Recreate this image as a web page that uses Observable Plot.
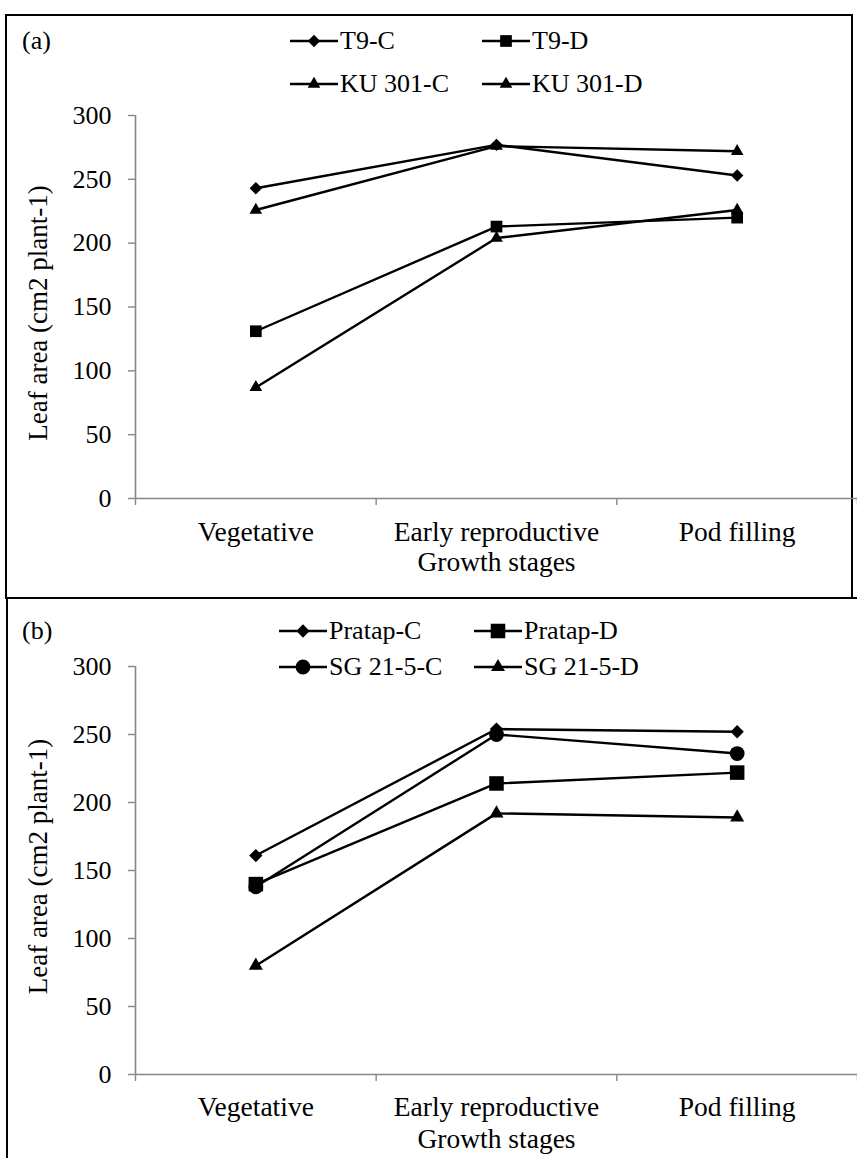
<!DOCTYPE html>
<html><head><meta charset="utf-8">
<script src="https://cdn.jsdelivr.net/npm/d3@7"></script>
<script src="https://cdn.jsdelivr.net/npm/@observablehq/plot@0.6"></script>
<style>
body{margin:0;background:#fff;}
#page{position:relative;width:857px;height:1158px;overflow:hidden;font-family:"Liberation Serif","Times New Roman",serif;color:#000;background:#fff;}
.box{position:absolute;box-sizing:border-box;}
.chart{position:absolute;left:0;}
.chart svg{overflow:visible;max-width:none;background:transparent;}
.tag{position:absolute;font-size:26px;line-height:1;transform:translateY(-50%);}
.leg{position:absolute;display:flex;align-items:center;font-size:26px;line-height:1;white-space:nowrap;transform:translateY(-50%);}
.leg svg{display:block;margin-right:2px;}
</style></head><body>
<div id="page"></div>
<script>
// ---- data ----
const stages = ["Vegetative", "Early reproductive", "Pod filling"];
const yTicks = [0, 50, 100, 150, 200, 250, 300];
const xTitle = "Growth stages";
const yTitle = "Leaf area (cm2 plant-1)";

const seriesA = ["T9-C", "T9-D", "KU 301-C", "KU 301-D"];
const t9C = [243, 277, 253];
const t9D = [131, 213, 220];
const ku301C = [226, 276, 272];
const ku301D = [87, 204, 226];

const seriesB = ["Pratap-C", "Pratap-D", "SG 21-5-C", "SG 21-5-D"];
const pratapC = [161, 254, 252];
const pratapD = [140, 214, 222];
const sg215C = [138, 250, 236];
const sg215D = [80, 192, 189];

// ---- styles ----
const axisGray = "#878787";
const TICKFONT = 26;
const LABELFONT = 27.5;
const symbolMap = {diamond2: d3.symbolDiamond2, square: d3.symbolSquare, triangle: d3.symbolTriangle, circle: d3.symbolCircle};

const page = document.getElementById("page");

function addBox(style) {
  const b = document.createElement("div");
  b.className = "box";
  Object.assign(b.style, style);
  page.appendChild(b);
}

function addTag(text, left, top) {
  const t = document.createElement("div");
  t.className = "tag";
  t.textContent = text;
  t.style.left = left + "px";
  t.style.top = top + "px";
  page.appendChild(t);
}

function addLegend(series, symbols, radii, positions) {
  series.forEach((s, i) => {
    const [x, y] = positions[i];
    const div = document.createElement("div");
    div.className = "leg";
    div.style.left = x + "px";
    div.style.top = y + "px";
    const w = 48, h = 22;
    const svg = d3.create("svg").attr("width", w).attr("height", h);
    svg.append("line").attr("x1", 0).attr("x2", w).attr("y1", h / 2).attr("y2", h / 2)
      .attr("stroke", "black").attr("stroke-width", 2.4);
    svg.append("path")
      .attr("d", d3.symbol(symbolMap[symbols[i]], Math.PI * radii[i] * radii[i])())
      .attr("transform", `translate(${w / 2},${h / 2})`)
      .attr("fill", "black");
    div.appendChild(svg.node());
    const span = document.createElement("span");
    span.textContent = s;
    div.appendChild(span);
    page.appendChild(div);
  });
}

function panel({series, values, symbols, radii, top, height, marginTop, marginBottom, labelDy, titleDy, ylabelDy}) {
  const data = series.flatMap((s, si) => values[si].map((v, i) => ({series: s, stage: i, value: v})));
  const marks = [
    Plot.ruleY([0], {stroke: axisGray, strokeWidth: 1.6}),
    Plot.ruleX([0], {stroke: axisGray, strokeWidth: 1.6}),
    Plot.axisY({ticks: yTicks, tickSize: 7, tickPadding: 17, fontSize: TICKFONT, stroke: axisGray, fill: "black", strokeWidth: 1.4, label: null}),
    Plot.axisX({ticks: d3.range(stages.length + 1), tickSize: 7, tickFormat: () => "", stroke: axisGray, strokeWidth: 1.4, label: null}),
    Plot.text(stages, {x: (d, i) => i + 0.5, text: d => d, frameAnchor: "bottom", dy: labelDy, fontSize: LABELFONT}),
    Plot.text([xTitle], {text: d => d, frameAnchor: "bottom", dy: titleDy, fontSize: LABELFONT}),
    Plot.text([yTitle], {text: d => d, frameAnchor: "left", textAnchor: "middle", rotate: -90, dx: -97, dy: ylabelDy, fontSize: 27}),
    Plot.line(data, {x: d => d.stage + 0.5, y: "value", z: "series", stroke: "black", strokeWidth: 2.4}),
    ...series.map((s, si) => Plot.dot(data.filter(d => d.series === s), {
      x: d => d.stage + 0.5, y: "value", symbol: symbols[si], r: radii[si], fill: "black", stroke: "none"
    }))
  ];
  const svg = Plot.plot({
    width: 857, height, marginTop, marginBottom, marginLeft: 135, marginRight: 0,
    x: {type: "linear", domain: [0, stages.length]},
    y: {domain: [0, 300]},
    style: {fontFamily: '"Liberation Serif", "Times New Roman", serif', fontSize: TICKFONT + "px", background: "transparent", overflow: "visible", color: "black"},
    marks
  });
  const holder = document.createElement("div");
  holder.className = "chart";
  holder.style.top = top + "px";
  holder.appendChild(svg);
  page.appendChild(holder);
}

// borders
addBox({left: "5px", top: "14px", width: "848px", height: "585px", border: "2px solid #000"});
addBox({left: "6px", top: "597px", width: "900px", height: "700px", borderLeft: "2px solid #000", borderTop: "2px solid #000"});

// panel (a)
const symA = ["diamond2", "square", "triangle", "triangle"];
const radA = [5.6, 6.6, 4.7, 4.7];
panel({series: seriesA, values: [t9C, t9D, ku301C, ku301D], symbols: symA, radii: radA,
  top: 100, height: 490, marginTop: 15, marginBottom: 92, labelDy: 42, titleDy: 72, ylabelDy: 6});
addTag("(a)", 22, 41);
addLegend(seriesA, symA, radA, [[290, 41], [482, 41], [290, 84], [482, 84]]);

// panel (b)
const symB = ["diamond2", "square", "circle", "triangle"];
const radB = [6, 8.2, 7.4, 5.2];
panel({series: seriesB, values: [pratapC, pratapD, sg215C, sg215D], symbols: symB, radii: radB,
  top: 650, height: 508, marginTop: 16, marginBottom: 84, labelDy: 41, titleDy: 73, ylabelDy: -4});
addTag("(b)", 22, 631);
addLegend(seriesB, symB, radB, [[279, 631], [474, 631], [279, 667], [474, 667]]);
</script>
</body></html>
